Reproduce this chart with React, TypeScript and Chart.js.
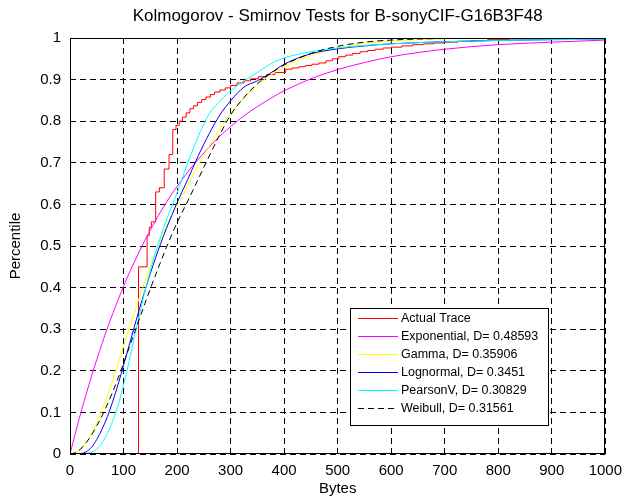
import React, { useEffect, useRef } from 'react';
import { Chart, registerables } from 'chart.js';

Chart.register(...registerables);

const TITLE = 'Kolmogorov - Smirnov Tests for B-sonyCIF-G16B3F48';
const X_LABEL = 'Bytes';
const Y_LABEL = 'Percentile';

const SERIES_NAMES = [
  'Actual Trace',
  'Exponential, D= 0.48593',
  'Gamma, D= 0.35906',
  'Lognormal, D= 0.3451',
  'PearsonV, D= 0.30829',
  'Weibull, D= 0.31561',
];

const traceX = [128, 128, 144, 148, 152, 160, 167, 176, 185, 192, 198, 204, 210, 217, 224, 231, 238, 246, 254, 262, 270, 280, 290, 300, 312, 325, 338, 352, 367, 383, 403, 415, 428, 440, 452, 465, 478, 490, 502, 515, 528, 542, 556, 570, 585, 600, 620, 640, 660, 680, 700, 725, 750, 780, 820, 900, 1000];
const traceY = [0, 0.45, 0.525, 0.545, 0.558, 0.63, 0.64, 0.685, 0.72, 0.78, 0.79, 0.8, 0.81, 0.82, 0.83, 0.837, 0.845, 0.852, 0.858, 0.864, 0.87, 0.875, 0.88, 0.886, 0.892, 0.897, 0.902, 0.907, 0.912, 0.917, 0.925, 0.928, 0.931, 0.934, 0.937, 0.94, 0.945, 0.95, 0.955, 0.959, 0.963, 0.967, 0.97, 0.973, 0.976, 0.978, 0.981, 0.984, 0.986, 0.988, 0.99, 0.992, 0.994, 0.996, 0.998, 0.999, 1];

// Fitted CDFs sampled at these byte values
const fitX = [0, 10, 20, 30, 40, 50, 60, 70, 80, 90, 100, 110, 120, 130, 140, 150, 160, 170, 180, 190, 200, 220, 240, 260, 280, 300, 325, 350, 375, 400, 450, 500, 550, 600, 700, 800, 900, 1000];
const exponential = [0, 0.05, 0.098, 0.143, 0.186, 0.227, 0.266, 0.303, 0.338, 0.371, 0.403, 0.433, 0.461, 0.488, 0.514, 0.538, 0.562, 0.584, 0.605, 0.625, 0.643, 0.678, 0.709, 0.738, 0.764, 0.787, 0.813, 0.835, 0.855, 0.873, 0.902, 0.924, 0.941, 0.955, 0.973, 0.984, 0.99, 0.995];
const gamma = [0, 0.004, 0.013, 0.028, 0.048, 0.074, 0.106, 0.14, 0.178, 0.218, 0.26, 0.3, 0.34, 0.378, 0.415, 0.45, 0.484, 0.516, 0.546, 0.575, 0.593, 0.646, 0.695, 0.74, 0.782, 0.818, 0.856, 0.887, 0.911, 0.93, 0.958, 0.976, 0.987, 0.993, 0.998, 0.9995, 1, 1];
const lognormal = [0, 0, 0.001, 0.005, 0.016, 0.035, 0.06, 0.09, 0.127, 0.168, 0.213, 0.259, 0.305, 0.35, 0.393, 0.434, 0.472, 0.508, 0.542, 0.573, 0.604, 0.66, 0.718, 0.77, 0.815, 0.849, 0.882, 0.897, 0.916, 0.937, 0.962, 0.974, 0.981, 0.986, 0.991, 0.994, 0.996, 0.997];
const pearsonV = [0, 0, 0, 0.001, 0.004, 0.012, 0.027, 0.05, 0.08, 0.118, 0.166, 0.22, 0.28, 0.335, 0.392, 0.44, 0.485, 0.525, 0.562, 0.595, 0.628, 0.7, 0.765, 0.818, 0.848, 0.873, 0.897, 0.917, 0.938, 0.952, 0.967, 0.976, 0.982, 0.986, 0.991, 0.994, 0.996, 0.997];
const weibull = [0, 0.003, 0.012, 0.027, 0.045, 0.068, 0.092, 0.12, 0.15, 0.183, 0.218, 0.254, 0.29, 0.326, 0.362, 0.397, 0.431, 0.464, 0.496, 0.527, 0.556, 0.608, 0.662, 0.716, 0.768, 0.815, 0.857, 0.89, 0.915, 0.935, 0.963, 0.98, 0.99, 0.995, 0.999, 1, 1, 1];

const X_MIN = 0, X_MAX = 1000, X_STEP = 100;
const Y_MIN = 0, Y_MAX = 1, Y_STEP = 0.1;

const COLORS = ['#ff0000', '#ff00ff', '#ffff00', '#0000ff', '#00ffff', '#000000'];
const DASHES: number[][] = [[], [], [], [], [], [6, 4]];

const FONT = '"Liberation Sans", Arial, Helvetica, sans-serif';

const overlayPlugin = {
  id: 'overlay',
  afterDraw(chart: any) {
    const { ctx, chartArea: a } = chart;
    ctx.save();
    ctx.globalAlpha = 1;
    ctx.globalCompositeOperation = 'source-over';
    // axes box
    ctx.setLineDash([]);
    ctx.strokeStyle = '#000000';
    ctx.lineWidth = 1;
    const l = Math.round(a.left) + 0.5, r = Math.round(a.right) - 0.5;
    const t = Math.round(a.top) + 0.5, b = Math.round(a.bottom) - 0.5;
    ctx.strokeRect(l, t, r - l, b - t);

    // title
    ctx.fillStyle = '#000000';
    ctx.font = `17px ${FONT}`;
    ctx.textAlign = 'center';
    ctx.textBaseline = 'middle';
    ctx.fillText(TITLE, (a.left + a.right) / 2, 16);

    // legend
    ctx.font = `12.5px ${FONT}`;
    let maxW = 0;
    SERIES_NAMES.forEach((n) => { maxW = Math.max(maxW, ctx.measureText(n).width); });
    const boxL = 350, boxT = 308;
    const rowH = 18;
    const lineX0 = boxL + 8, lineLen = 40;
    const textX = boxL + 51;
    const boxW = Math.round(textX - boxL + maxW + 10);
    const boxH = 117;
    ctx.fillStyle = '#ffffff';
    ctx.fillRect(boxL, boxT, boxW, boxH);
    ctx.strokeStyle = '#000000';
    ctx.strokeRect(boxL + 0.5, boxT + 0.5, boxW, boxH);
    ctx.textAlign = 'left';
    SERIES_NAMES.forEach((n, i) => {
      const y = Math.round(boxT + 10 + i * rowH);
      ctx.fillStyle = COLORS[i];
      const dash = DASHES[i];
      if (dash.length === 0) {
        ctx.fillRect(lineX0, y, lineLen, 1);
      } else {
        for (let s = 0; s < lineLen; s += dash[0] + dash[1]) {
          ctx.fillRect(lineX0 + s, y, Math.min(dash[0], lineLen - s), 1);
        }
      }
      ctx.fillStyle = '#000000';
      ctx.fillText(n, textX, y + 0.5);
    });
    ctx.restore();
  },
};

export default function App() {
  const ref = useRef<HTMLCanvasElement | null>(null);
  useEffect(() => {
    if (!ref.current) return;
    const fits = [exponential, gamma, lognormal, pearsonV, weibull];
    const datasets: any[] = [
      {
        label: SERIES_NAMES[0],
        data: traceX.map((x, i) => ({ x, y: traceY[i] })),
        borderColor: COLORS[0],
        backgroundColor: COLORS[0],
        borderWidth: 1,
        pointRadius: 0,
        stepped: 'before',
        fill: false,
        order: 5,
      },
      ...fits.map((ys, k) => ({
        label: SERIES_NAMES[k + 1],
        data: fitX.map((x, i) => ({ x, y: ys[i] })),
        borderColor: COLORS[k + 1],
        backgroundColor: COLORS[k + 1],
        borderWidth: 1,
        borderDash: DASHES[k + 1],
        pointRadius: 0,
        cubicInterpolationMode: 'monotone',
        fill: false,
        order: 4 - k,
      })),
    ];
    const chart = new Chart(ref.current, {
      type: 'line',
      data: { datasets },
      options: {
        responsive: false,
        animation: false,
        devicePixelRatio: 1,
        layout: { padding: { top: 38, right: 20, left: 0, bottom: 0 } },
        plugins: { legend: { display: false }, title: { display: false }, tooltip: { enabled: false } },
        scales: {
          x: {
            type: 'linear',
            min: X_MIN,
            max: X_MAX,
            border: { display: false, dash: [6, 4] },
            grid: { color: '#000', lineWidth: 1, drawTicks: false },
            ticks: {
              stepSize: X_STEP,
              color: '#000',
              font: { family: FONT, size: 15 },
              padding: 8,
              maxRotation: 0,
              callback: (v: any) => String(Math.round(Number(v))),
            },
            title: { display: true, text: X_LABEL, color: '#000', font: { family: FONT, size: 15 }, padding: 0 },
            afterFit: (s: any) => { s.height = 44; },
          },
          y: {
            type: 'linear',
            min: Y_MIN,
            max: Y_MAX,
            border: { display: false, dash: [6, 4] },
            grid: { color: '#000', lineWidth: 1, drawTicks: false },
            ticks: {
              stepSize: Y_STEP,
              color: '#000',
              font: { family: FONT, size: 15 },
              padding: 9,
              callback: (v: any) => String(Math.round(Number(v) * 10) / 10),
            },
            title: { display: true, text: Y_LABEL, color: '#000', font: { family: FONT, size: 15 }, padding: { top: 7, bottom: 0 } },
            afterFit: (s: any) => { s.width = 70; },
          },
        },
      },
      plugins: [overlayPlugin],
    } as any);
    return () => chart.destroy();
  }, []);
  return (
    <div style={{ position: 'absolute', left: 0, top: 0, width: 630, height: 498, background: '#fff' }}>
      <canvas ref={ref} width={630} height={498} style={{ width: 630, height: 498, display: 'block' }} />
    </div>
  );
}
